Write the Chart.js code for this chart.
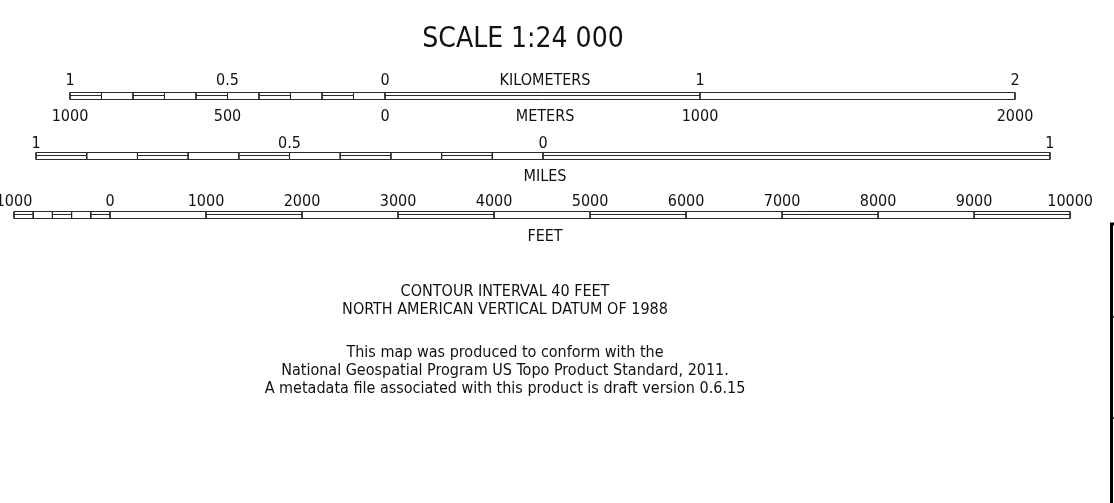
<!DOCTYPE html>
<html lang="en">
<head>
<meta charset="UTF-8">
<title>Scale 1:24 000</title>
<script src="https://cdn.jsdelivr.net/npm/chart.js"></script>
<style>
  html, body { margin: 0; padding: 0; background: #fff; }
  #wrap { width: 1114px; height: 503px; position: relative; }
</style>
</head>
<body>
<div id="wrap"><canvas id="scaleChart"></canvas></div>
<script>
// --- data ---------------------------------------------------------------
// kilometer bar: left kilometer split in tenths
const kmBreaks = [-1, -0.9, -0.8, -0.7, -0.6, -0.5, -0.4, -0.3, -0.2, -0.1, 0, 1, 2];
const kmDouble = [1, 0, 1, 0, 1, 0, 1, 0, 1, 0, 1, 0];
const kmTickValues = [-1, -0.5, 0, 1, 2];
const kmTickLabels = ['1', '0.5', '0', '1', '2'];
const meterTickLabels = ['1000', '500', '0', '1000', '2000'];

// mile bar: left mile split in tenths
const mileBreaks = [-1, -0.9, -0.8, -0.7, -0.6, -0.5, -0.4, -0.3, -0.2, -0.1, 0, 1];
const mileDouble = [1, 0, 1, 0, 1, 0, 1, 0, 1, 0, 1];
const mileTickValues = [-1, -0.5, 0, 1];
const mileTickLabels = ['1', '0.5', '0', '1'];

// feet bar: left 1000 ft split in 200 ft pieces
const feetBreaks = [-1000, -800, -600, -400, -200, 0, 1000, 2000, 3000, 4000, 5000, 6000, 7000, 8000, 9000, 10000];
const feetDouble = [1, 0, 1, 0, 1, 0, 1, 0, 1, 0, 1, 0, 1, 0, 1];
const feetTickValues = [-1000, 0, 1000, 2000, 3000, 4000, 5000, 6000, 7000, 8000, 9000, 10000];
const feetTickLabels = ['1000', '0', '1000', '2000', '3000', '4000', '5000', '6000', '7000', '8000', '9000', '10000'];

const titleText = 'SCALE 1:24 000';
const noteLines = ['CONTOUR INTERVAL 40 FEET', 'NORTH AMERICAN VERTICAL DATUM OF 1988'];
const creditLines = [
  'This map was produced to conform with the',
  'National Geospatial Program US Topo Product Standard, 2011.',
  'A metadata file associated with this product is draft version 0.6.15'
];

// --- layout -------------------------------------------------------------
const M_PER_KM = 1000, M_PER_MI = 1609.344, M_PER_FT = 0.3048;
const X_MIN = -1222.2, X_MAX = 2314.3;   // ground metres across the page
const MILE_ZERO = 501.6, FEET_ZERO = -873; // where each bar's 0 sits, metres
const UNIT_X = 508;                        // unit captions column, metres
const FONT = '"DejaVu Sans Condensed", "DejaVu Sans", sans-serif';
const INK = '#111';
const LINE = '#2a2a2a';

const bars = [
  { breaks: kmBreaks, dbl: kmDouble, toM: v => v * M_PER_KM, top: 92.5, mid: 95.5, bottom: 99.5 },
  { breaks: mileBreaks, dbl: mileDouble, toM: v => MILE_ZERO + v * M_PER_MI, top: 152.5, mid: 155.5, bottom: 159.5 },
  { breaks: feetBreaks, dbl: feetDouble, toM: v => FEET_ZERO + v * M_PER_FT, top: 211.5, mid: 214.5, bottom: 218.5 }
];

function barPoints(bar) {
  const pts = [];
  const m = bar.toM;
  const first = m(bar.breaks[0]);
  const last = m(bar.breaks[bar.breaks.length - 1]);
  const gap = () => pts.push({ x: first, y: null });
  pts.push({ x: first, y: bar.top }, { x: last, y: bar.top }); gap();
  pts.push({ x: first, y: bar.bottom }, { x: last, y: bar.bottom }); gap();
  bar.breaks.forEach(b => { pts.push({ x: m(b), y: bar.top }, { x: m(b), y: bar.bottom }); gap(); });
  bar.dbl.forEach((d, i) => {
    if (d) { pts.push({ x: m(bar.breaks[i]), y: bar.mid }, { x: m(bar.breaks[i + 1]), y: bar.mid }); gap(); }
  });
  return pts;
}

// text + frame drawn on top of the bars
const textPlugin = {
  id: 'scaleText',
  afterDatasetsDraw(chart) {
    const { ctx, scales: { x, y } } = chart;
    const w = chart.width;
    ctx.save();
    ctx.fillStyle = INK;
    ctx.textAlign = 'center';
    ctx.textBaseline = 'alphabetic';

    ctx.font = '28px ' + FONT;
    ctx.fillText(titleText, 523, 47);

    ctx.font = '16px ' + FONT;
    const put = (txt, m, row) => ctx.fillText(txt, x.getPixelForValue(m), y.getPixelForValue(row));
    kmTickValues.forEach((v, i) => put(kmTickLabels[i], bars[0].toM(v), 85));
    kmTickValues.forEach((v, i) => put(meterTickLabels[i], bars[0].toM(v), 121));
    put('KILOMETERS', UNIT_X, 85);
    put('METERS', UNIT_X, 121);
    mileTickValues.forEach((v, i) => put(mileTickLabels[i], bars[1].toM(v), 148));
    put('MILES', UNIT_X, 181);
    feetTickValues.forEach((v, i) => put(feetTickLabels[i], bars[2].toM(v), 206));
    put('FEET', UNIT_X, 241);

    noteLines.forEach((t, i) => ctx.fillText(t, 505, 296 + i * 18));
    creditLines.forEach((t, i) => ctx.fillText(t, 505, 357 + i * 18));

    // left edge of the neighbouring table, cut by the page
    ctx.strokeStyle = '#000';
    ctx.lineWidth = 3;
    ctx.beginPath();
    ctx.moveTo(w, 224); ctx.lineTo(1111.5, 224); ctx.lineTo(1111.5, chart.height);
    ctx.stroke();
    ctx.lineWidth = 1.5;
    [317, 418].forEach(r => { ctx.beginPath(); ctx.moveTo(1111, r); ctx.lineTo(w, r); ctx.stroke(); });
    ctx.restore();
  }
};

const config = {
  type: 'scatter',
  data: {
    datasets: bars.map(b => ({
      data: barPoints(b),
      showLine: true,
      spanGaps: false,
      borderColor: LINE,
      borderWidth: 1,
      pointRadius: 0,
      pointHoverRadius: 0,
      tension: 0,
      clip: false
    }))
  },
  options: {
    responsive: true,
    maintainAspectRatio: false,
    animation: false,
    events: [],
    layout: { padding: 0 },
    scales: {
      x: { type: 'linear', min: X_MIN, max: X_MAX, display: false },
      y: { type: 'linear', min: 0, max: 503, reverse: true, display: false }
    },
    plugins: {
      legend: { display: false },
      tooltip: { enabled: false }
    }
  },
  plugins: [textPlugin]
};

const scaleChart = new Chart(document.getElementById('scaleChart'), config);
</script>
</body>
</html>
